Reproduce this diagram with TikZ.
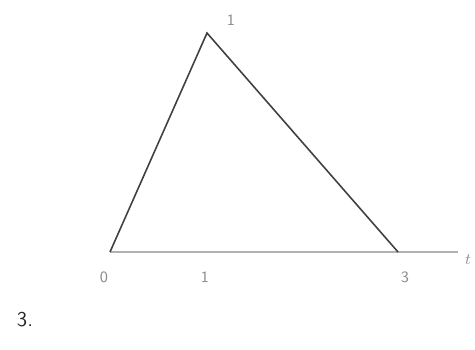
\documentclass[tikz,border=0pt]{standalone}
\begin{document}
\begin{tikzpicture}[x=0.02cm,y=-0.02cm,
  edge/.style={draw=black!75, line width=0.9pt},
  axis/.style={draw=black!30, line width=0.6pt},
  lbl/.style={text=black!45, font=\sffamily\small, inner sep=0pt}]
\useasboundingbox (0,0) rectangle (475,350);
\coordinate (O) at (110,252);
\coordinate (P) at (207,33);
\coordinate (Q) at (398,252);
\coordinate (E) at (458,252);
\draw[axis] (O) -- (E);
\draw[edge] (O) -- (P) -- (Q);
\node[lbl] (l0) at (104,277) {0};
\node[lbl] (l1) at (205,277) {1};
\node[lbl] (l3) at (405,277) {3};
\node[lbl] (lt) at (468,260) {$t$};
\node[lbl] (ltop) at (231,20) {1};
\node[text=black!85, font=\sffamily\large, inner sep=0pt] (n3) at (25,320) {3.};
\end{tikzpicture}
\end{document}
